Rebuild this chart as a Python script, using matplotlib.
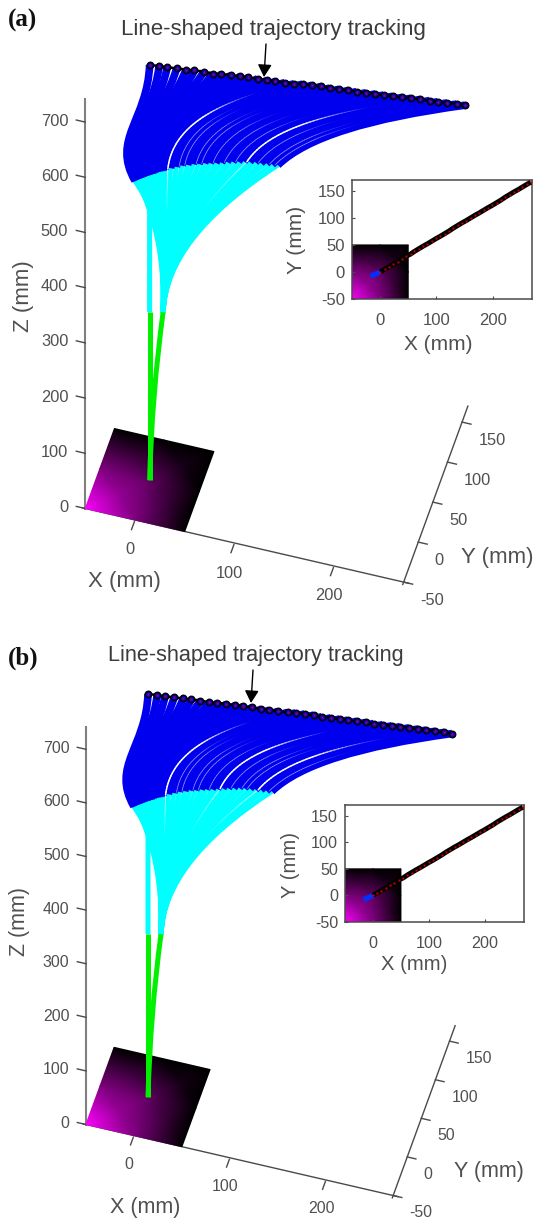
import numpy as np
import matplotlib
matplotlib.use("Agg")
import matplotlib.pyplot as plt
from matplotlib.colors import LinearSegmentedColormap
from matplotlib.collections import LineCollection
from matplotlib.path import Path
from matplotlib.patches import PathPatch

# ---- data (mm) ----
traj_x = [0,8,15,23,31,38,46,54,61,69,77,84,92,100,107,115,123,130,138,146,153,161,169,176,184,192,199,207,215,222,230,238,245,253,261,268]
traj_y = [0,5,9,14,19,24,29,33,38,43,48,52,57,62,66,71,76,81,86,91,95,100,105,109,114,119,123,128,133,138,143,148,152,157,162,166]
traj_z = [752,746,741,735,729,723,717,711,706,700,694,689,683,676,671,665,659,654,648,642,636,630,624,619,613,607,602,596,590,584,578,572,567,561,555,550]
sec2_x = [-12.4,-10.7,-9,-7.3,-5.6,-3.9,-2.2,-.5,1.2,2.9,4.6,6.3,8,9.7,11.4,13.1,17.9,22.7,27.5,32.3,37.1,41.9,46.7,51.5,56.3,61.1,65.9,70.7,75.5,80.3,85.1,89.9,94.7,99.5,104.3,109.1]
sec2_y = [-7.7,-6.6,-5.6,-4.5,-3.5,-2.4,-1.4,-.3,.7,1.8,2.9,3.9,5,6,7.1,8.1,11.1,14.1,17.1,20,23,26,29,31.9,34.9,37.9,40.9,43.8,46.8,49.8,52.8,55.7,58.7,61.7,64.7,67.6]
sec2_z = [548,548,549,550,550,551,552,552,553,553,554,555,555,555,555,556,556,556,556,555,554,552,551,549,547,545,544,542,540,538,535,532,528,525,521,518]
sec1_left = (0, 0, 304)
sec1_right = (11.5, 7, 298.5)
sec1_right_ctrl = (2, 1.2, 154.6)
sec2_left_way = (0, 0, 500)
sec2_ctrl = (14, 8.7, 433)
base_point = (0, 0, 0)
plate_x = [[-50, 0, 50], [-50, 0, 50], [-50, 0, 50]]
plate_y = [[-50, -50, -50], [0, 0, 0], [50, 50, 50]]
plate_v = [[1, 0.5, 0], [0.5, 0.38, 0], [0, 0, 0]]
x_ticks = [0, 100, 200]
y_ticks = [-50, 0, 50, 100, 150]
z_ticks = [0, 100, 200, 300, 400, 500, 600, 700]
inset_x_ticks = [0, 100, 200]
inset_y_ticks = [-50, 0, 50, 100, 150]
inset_tail_x = [-17, 0]
inset_tail_y = [-8, 0]
title_text = "Line-shaped trajectory tracking"

# bend offsets (screen px) at three key configurations
key_i = [0, 15, 35]
c1_dx, c1_dy = [-24, 5, 29], [-42, -51, -28]
c2_dx, c2_dy = [-2, -56, -95], [55, 16, 13]

W, H = 535, 1218
plt.rcParams["font.family"] = ["Liberation Sans", "DejaVu Sans"]
plt.rcParams["axes.unicode_minus"] = False
fig = plt.figure(figsize=(W/100, H/100), dpi=100)
ax = fig.add_axes([0, 0, 1, 1])
ax.set_xlim(0, W); ax.set_ylim(H, 0); ax.axis("off")
GR = "#4a4a4a"
TX = "#505050"
cmap = LinearSegmentedColormap.from_list("pl", ["#000000", "#ff00ff"])
BLUE, CYAN, GREEN = "#0000ee", "#00ffff", "#00f000"
LW = 5 * 0.72
LWB = 7.6 * 0.72


def draw_curve(verts, codes, color, z, lw=LW):
    ax.add_patch(PathPatch(Path(verts, codes), fc="none", ec=color, lw=lw, capstyle="butt", joinstyle="round", zorder=z))


def bez3(p0, p1, p2, p3, t):
    t = t[:, None]
    return ((1-t)**3*p0 + 3*(1-t)**2*t*p1 + 3*(1-t)*t**2*p2 + t**3*p3)


def bez2(p0, p1, p2, t):
    t = t[:, None]
    return ((1-t)**2*p0 + 2*(1-t)*t*p1 + t**2*p2)


def panel(p):
    cx, cy, sx, sy, sz, fs = p["cx"], p["cy"], p["sx"], p["sy"], p["sz"], p["fs"]

    def pr(X, Y, Z):
        return (cx + sx*(0.995*np.asarray(X, float) + 0.292*np.asarray(Y, float)),
                cy + sy*(0.23*np.asarray(X, float) - 0.80*np.asarray(Y, float)) - sz*0.552*np.asarray(Z, float))

    # axes lines
    x0, x1, y0, y1, z1 = -50, 270, -50, 170, 742
    ax.plot(*zip(pr(x0, y0, 0), pr(x0, y0, z1)), color="#808080", lw=1.5, zorder=2)
    ax.plot(*zip(pr(x0-3, y0, 0), pr(x1+5, y0, 0)), color=GR, lw=1.0, zorder=2)
    ax.plot(*zip(pr(x1, y0-3, 0), pr(x1, y1, 0)), color=GR, lw=1.0, zorder=2)
    for t in z_ticks:
        ax.plot(*zip(pr(x0, y0, t), pr(x0-9, y0, t)), color=GR, lw=1.0, zorder=2)
        a, b = pr(x0, y0, t)
        ax.text(a-17*sx, b-1, str(t), ha="right", va="center", fontsize=11.8*fs, color=TX)
    for t in x_ticks:
        ax.plot(*zip(pr(t, y0-2, 0), pr(t, y0-12, 0)), color=GR, lw=1.0, zorder=2)
        a, b = pr(t, y0, 0)
        ax.text(a-5*sx, b+30*sy, str(t), ha="center", va="center", fontsize=11.8*fs, color=TX)
    for t in y_ticks:
        ax.plot(*zip(pr(x1, t, 0), pr(x1+9, t, 0)), color=GR, lw=1.0, zorder=2)
        a, b = pr(x1, t, 0)
        ax.text(a+16.5*sx, b+18*sy, str(t), ha="left", va="center", fontsize=11.8*fs, color=TX)
    ax.text(p["xl"][0], p["xl"][1], "X (mm)", ha="center", va="center", fontsize=16*fs, color=TX)
    ax.text(p["yl"][0], p["yl"][1], "Y (mm)", ha="center", va="center", fontsize=16*fs, color=TX)
    ax.text(p["zl"][0], p["zl"][1], "Z (mm)", ha="center", va="center", rotation=90, fontsize=16*fs, color=TX)

    # plate
    px, py = pr(plate_x, plate_y, np.zeros((3, 3)))
    ax.pcolormesh(px, py, np.array(plate_v, float), cmap=cmap, shading="gouraud", vmin=0, vmax=1, zorder=3)

    bx, by = pr(*base_point)
    lx, ly = pr(*sec1_left)
    rx, ry = pr(*sec1_right)
    rcx, rcy = pr(*sec1_right_ctrl)
    wx, wy = pr(*sec2_left_way)
    ccx, ccy = pr(*sec2_ctrl)
    tx, ty = pr(traj_x, traj_y, traj_z)
    mx, my = pr(sec2_x, sec2_y, sec2_z)
    n = len(traj_x)

    # green + cyan
    draw_curve([(bx, by), (lx, ly)], [Path.MOVETO, Path.LINETO], GREEN, 5)
    draw_curve([(bx, by), (rcx, rcy), (rx, ry)], [Path.MOVETO, Path.CURVE3, Path.CURVE3], GREEN, 5)
    draw_curve([(lx, ly), (wx, wy), (mx[0], my[0])], [Path.MOVETO, Path.LINETO, Path.LINETO], CYAN, 4)
    for i in range(1, n):
        draw_curve([(rx, ry), (ccx, ccy), (mx[i], my[i])], [Path.MOVETO, Path.CURVE3, Path.CURVE3], CYAN, 4)

    # blue
    ctrl = []
    for i in range(n):
        a1 = np.interp(i, key_i, c1_dx)*sx; b1 = np.interp(i, key_i, c1_dy)*sy
        a2 = np.interp(i, key_i, c2_dx)*sx; b2 = np.interp(i, key_i, c2_dy)*sy
        q = [np.array(v) for v in [(mx[i], my[i]), (mx[i]+a1, my[i]+b1), (tx[i]+a2, ty[i]+b2), (tx[i], ty[i])]]
        ctrl.append(q)
        draw_curve(q, [Path.MOVETO, Path.CURVE4, Path.CURVE4, Path.CURVE4], BLUE, 6, lw=LWB)

    # thin gaps between neighbouring configurations
    def gap(i, width, alpha, tend, cyan_from):
        tb = np.linspace(0, tend, 40)
        c = 0.5*(bez3(*ctrl[i], tb) + bez3(*ctrl[i+1], tb))
        fade = np.clip((tend - tb[:-1]) / (0.45*tend), 0, 1)
        seg = np.stack([c[:-1], c[1:]], axis=1)
        rgba = np.ones((len(seg), 4)); rgba[:, 3] = alpha*fade
        ax.add_collection(LineCollection(seg, colors=rgba, linewidths=width*(0.4+0.6*fade), zorder=6.5, capstyle="round"))
        if cyan_from < 1:
            tc = np.linspace(cyan_from, 1, 14)
            p0, p1 = np.array((rx, ry)), np.array((ccx, ccy))
            c2 = 0.5*(bez2(p0, p1, np.array((mx[i], my[i])), tc) + bez2(p0, p1, np.array((mx[i+1], my[i+1])), tc))
            seg2 = np.stack([c2[:-1], c2[1:]], axis=1)
            rgba2 = np.ones((len(seg2), 4)); rgba2[:, 3] = alpha*0.7*np.linspace(0, 1, len(seg2))
            ax.add_collection(LineCollection(seg2, colors=rgba2, linewidths=width*0.7, zorder=5.5))

    for i in p["faint"]:
        gap(i, 0.55, 0.5, 0.6, 0.88)
    for i in p["bright"]:
        gap(i, 1.1, 1.0, 0.8, 0.66)

    # trajectory
    ax.plot(tx, ty, color="black", lw=1.8, zorder=7)
    ax.plot(tx, ty, ls="none", marker="o", ms=4.6, mfc=BLUE, mec="black", mew=1.1, zorder=8)
    ax.plot(tx, ty, ls="none", marker="s", ms=1.8, mfc="#cc0000", mec="none", zorder=9)

    # annotation
    ax.text(p["tt"][0], p["tt"][1], title_text, ha="center", va="center", fontsize=p["tfs"], color="#3c3c3c")
    ax.annotate("", xy=p["ah"], xytext=p["at"],
                arrowprops=dict(arrowstyle="-|>,head_width=0.42,head_length=0.75", color="black", lw=1.0, shrinkA=0, shrinkB=0), zorder=10)
    ax.text(p["pl"][0], p["pl"][1], p["name"], ha="left", va="center", fontsize=18, fontweight="bold",
            family=["Liberation Serif"], color="#111111")

    # inset
    L, R, T, B = p["box"]
    ia = fig.add_axes([L/W, 1-B/H, (R-L)/W, (B-T)/H])
    ia.set_xlim(-50, 270); ia.set_ylim(-50, 170)
    ia.pcolormesh(np.array(plate_x, float), np.array(plate_y, float), np.array(plate_v, float), cmap=cmap,
                  shading="gouraud", vmin=0, vmax=1, zorder=1)
    ia.plot(inset_tail_x, inset_tail_y, color="#0030ff", lw=3.6, solid_capstyle="butt", zorder=2)
    ia.plot(traj_x, traj_y, color="black", lw=3.6, solid_capstyle="butt", zorder=3)
    ia.plot(traj_x, traj_y, ls="none", marker="s", ms=1.7, mfc="#cc0000", mec="none", zorder=4)
    ia.set_xticks(inset_x_ticks); ia.set_yticks(inset_y_ticks)
    ia.tick_params(direction="in", length=2, width=0.8, color=GR, labelsize=12*fs, labelcolor=TX, pad=5)
    ia.tick_params(axis="x", pad=10)
    for s in ia.spines.values():
        s.set_color(GR); s.set_linewidth(1.1)
    ax.text(p["ixl"][0], p["ixl"][1], "X (mm)", ha="center", va="center", fontsize=15*fs, color=TX)
    ax.text(p["iyl"][0], p["iyl"][1], "Y (mm)", ha="center", va="center", rotation=90, fontsize=15*fs, color=TX)


panel(dict(cx=149.6, cy=480, sx=1.0, sy=1.0, sz=1.0, fs=1.0, name="(a)", pl=(8, 20), tt=(273, 29), tfs=16,
           ah=(264, 77), at=(266, 44), box=(352, 532, 180, 299), ixl=(438, 345), iyl=(297, 240),
           xl=(124, 581), yl=(497, 557), zl=(24, 296),
           bright=[15, 29], faint=[17, 18, 20, 21, 23, 25, 27, 31, 33, 34]))
panel(dict(cx=148, cy=1097, sx=0.965, sy=0.965, sz=0.971, fs=0.97, name="(b)", pl=(8, 658), tt=(256, 656), tfs=15.6,
           ah=(251, 703), at=(253, 670), box=(345, 524, 805, 922), ixl=(414, 965), iyl=(290, 865),
           xl=(145, 1208), yl=(489, 1171), zl=(20, 922),
           bright=[15, 25, 32], faint=[17, 18, 20, 21, 23, 27, 29, 30, 34]))

fig.savefig("out.png", dpi=100)
